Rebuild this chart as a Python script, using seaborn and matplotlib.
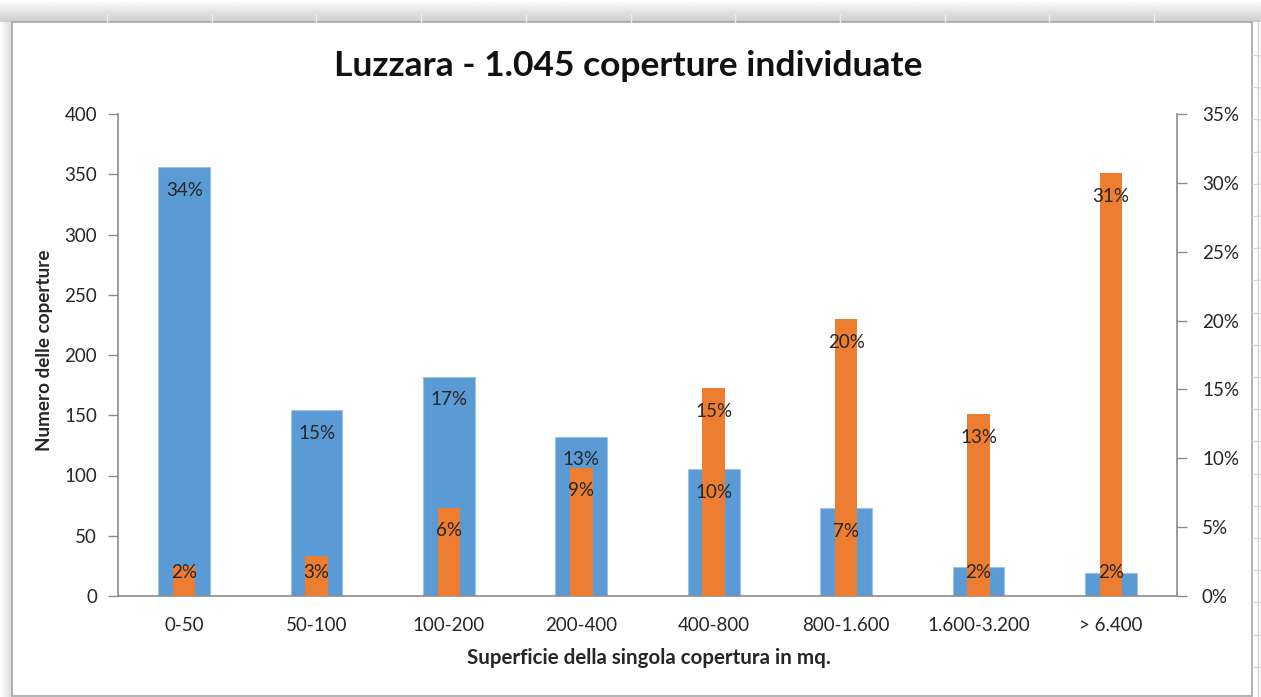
import matplotlib.pyplot as plt
import numpy as np
import pandas as pd
import seaborn as sns
from matplotlib.patches import Rectangle
from matplotlib.ticker import FuncFormatter

# Data
classi = ['0-50', '50-100', '100-200', '200-400', '400-800', '800-1.600', '1.600-3.200', '> 6.400']
numero = [356, 154, 182, 132, 105, 73, 24, 19]
quota_superficie = [2.2, 2.9, 6.4, 9.3, 15.1, 20.1, 13.2, 30.7]  # % (right axis)

df = pd.DataFrame({'classe': classi, 'numero': numero, 'superficie': quota_superficie})
df['quota_numero'] = df['numero'] / df['numero'].sum() * 100

BLUE = '#5B9BD5'
ORANGE = '#ED7D31'
GRAY = '#8c8c8c'
TXT = '#262626'

sns.set_style('white')
plt.rcParams['font.family'] = ['Lato', 'DejaVu Sans']

W, H = 1261, 697
fig = plt.figure(figsize=(W / 100, H / 100), dpi=100)

# Excel sheet background: shadow + cell grid + chart frame
bg = fig.add_axes([0, 0, 1, 1], zorder=-10)
bg.set_xlim(0, W)
bg.set_ylim(H, 0)
bg.axis('off')
grad_v = np.linspace(1, 0.80, 50).reshape(-1, 1)
bg.imshow(grad_v, cmap='gray', vmin=0, vmax=1, extent=(0, W, 22, 0), aspect='auto')
grad_h = np.linspace(1, 0.86, 50).reshape(1, -1)
bg.imshow(grad_h, cmap='gray', vmin=0, vmax=1, extent=(0, 12, H, 22), aspect='auto')
for xg in np.arange(107, 1252, 104.7):
    bg.plot([xg, xg], [14, 22], color='#ededed', lw=1)
bg.plot([1258, 1258], [22, H], color='#d0d0d0', lw=1)
for yg in np.arange(55, H, 32.2):
    bg.plot([1252, W], [yg, yg], color='#d9d9d9', lw=1)
bg.add_patch(Rectangle((12, 22), 1240, 674, facecolor='white', edgecolor='#a6a6a6', lw=1.2))

# Main axes
ax = fig.add_axes([118 / W, 1 - 596 / H, (1177 - 118) / W, (596 - 114) / H])
ax.set_facecolor('none')
sns.barplot(data=df, x='classe', y='numero', color=BLUE, width=0.39, saturation=1,
            edgecolor='#9cc3e6', linewidth=0.8, ax=ax)
ax.set_ylim(0, 400)
ax.set_xlim(-0.5, len(classi) - 0.5)
ax.set_yticks(np.arange(0, 401, 50))

ax2 = ax.twinx()
sns.barplot(data=df, x='classe', y='superficie', color=ORANGE, width=0.17, saturation=1,
            linewidth=0, ax=ax2)
ax2.set_ylim(0, 35)
ax2.set_xlim(-0.5, len(classi) - 0.5)
ax2.set_yticks(np.arange(0, 36, 5))
ax2.yaxis.set_major_formatter(FuncFormatter(lambda v, p: f'{v:.0f}%'))

# category ticks between groups, labels at centres
for a in (ax, ax2):
    a.set_xticks(np.arange(-0.5, len(classi), 1))
    a.set_xticklabels([])
    a.set_xticks(np.arange(len(classi)), minor=True)
    a.set_xlabel('')
    a.set_ylabel('')
    for s in a.spines.values():
        s.set_visible(False)
ax.set_xticklabels(classi, minor=True)
ax.tick_params(axis='x', which='minor', length=0, pad=15, labelsize=13.5, labelcolor=TXT)
ax.tick_params(axis='x', which='major', length=7, width=1, color=GRAY, direction='out')
ax.tick_params(axis='y', length=7, width=1, color=GRAY, direction='out', pad=8,
               labelsize=13.5, labelcolor=TXT)
ax2.tick_params(axis='y', length=7, width=1, color=GRAY, direction='out', pad=11,
                labelsize=13.5, labelcolor=TXT)
ax2.tick_params(axis='x', which='both', length=0)
ax.spines['left'].set_visible(True)
ax.spines['bottom'].set_visible(True)
ax2.spines['right'].set_visible(True)
for s in (ax.spines['left'], ax.spines['bottom'], ax2.spines['right']):
    s.set_color(GRAY)
    s.set_linewidth(1.2)

# data labels ("inside end"), drawn on top of both series
off_l = 400 * 23 / 482
off_r = 35 * 23 / 482
for i, row in df.iterrows():
    yb = max(row['numero'] - off_l, off_l)
    ax2.text(i, yb, f"{row['quota_numero']:.0f}%", transform=ax.transData,
             ha='center', va='center', fontsize=13.5, color=TXT, zorder=10)
    yo = max(row['superficie'] - off_r, off_r)
    ax2.text(i, yo, f"{row['superficie']:.0f}%", ha='center', va='center',
             fontsize=13.5, color=TXT, zorder=10)

fig.text(628 / W, 1 - 66 / H, 'Luzzara - 1.045 coperture individuate',
         ha='center', va='center', fontsize=25.5, fontweight='bold', color='#111111')
fig.text(45 / W, 1 - 350 / H, 'Numero delle coperture', rotation=90,
         ha='center', va='center', fontsize=13.6, fontweight='bold', color=TXT)
fig.text(649 / W, 1 - 658 / H, 'Superficie della singola copertura in mq.',
         ha='center', va='center', fontsize=14.8, fontweight='bold', color=TXT)

fig.savefig('out.png', dpi=100)
